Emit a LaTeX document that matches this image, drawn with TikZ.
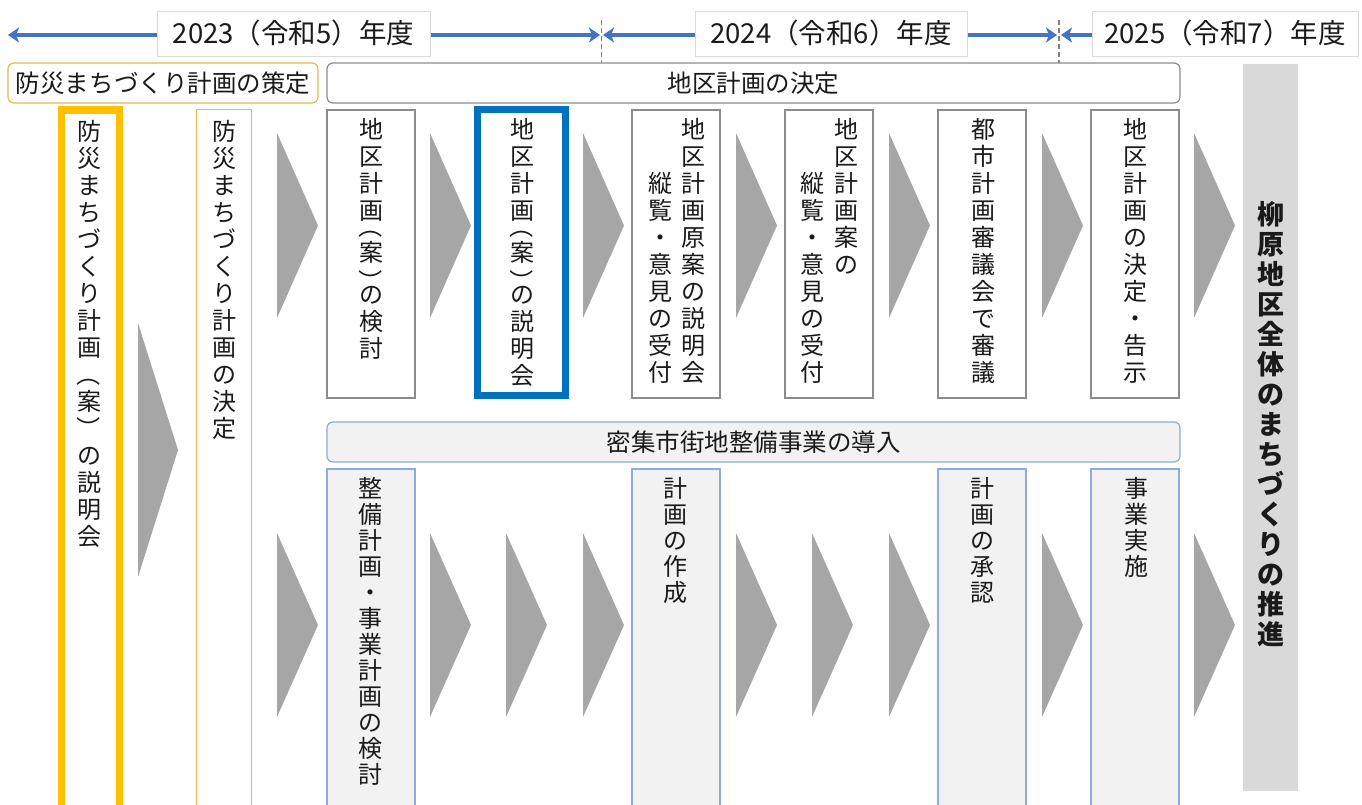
\documentclass[tikz,border=0pt]{standalone}
\usepackage{fontspec}
\setmainfont{Noto Sans CJK JP}
\usepackage{graphicx}
\usetikzlibrary{arrows.meta}

\definecolor{tlblue}{HTML}{4472C4}
\definecolor{goldc}{HTML}{E3B84F}
\definecolor{orangec}{HTML}{FFC000}
\definecolor{bluebox}{HTML}{0070C0}
\definecolor{graybd}{HTML}{8C8C8C}
\definecolor{bluebd}{HTML}{8FAADC}
\definecolor{lightf}{HTML}{F2F2F2}
\definecolor{grayf}{HTML}{D9D9D9}
\definecolor{chevc}{HTML}{A6A6A6}
\definecolor{yrbd}{HTML}{DADADA}
\definecolor{sepc}{HTML}{808080}
\definecolor{txt}{HTML}{1A1A1A}

% ---- vertical text helpers ----
\newdimen\vpitch
\def\LP{LP}\def\RP{RP}\def\LPF{LPF}\def\RPF{RPF}
\def\vhalf#1{\hbox to 1em{\hss\smash{#1}\hss\vrule height .55\vpitch depth 0pt width 0pt}}
\def\vfull#1{\hbox to 1em{\hss\smash{#1}\hss\vrule height .88em depth \dimexpr\vpitch-.88em\relax width 0pt}}
\def\vtitem#1{%
 \ifx\LP#1\vhalf{\raisebox{1.08em}{\rotatebox{-90}{（}}}\else
 \ifx\RP#1\vhalf{\raisebox{.5em}{\rotatebox{-90}{）}}}\else
 \ifx\LPF#1\vfull{\raisebox{.88em}{\rotatebox{-90}{（}}}\else
 \ifx\RPF#1\vfull{\raisebox{.88em}{\rotatebox{-90}{）}}}\else
 \hbox to 1em{\hss#1\hss\vrule height .88em depth \dimexpr\vpitch-.88em\relax width 0pt}%
 \fi\fi\fi\fi}
\def\vtloop#1{\ifx\relax#1\else\vtitem#1\expandafter\vtloop\fi}
\newcommand\vtx[2]{\vbox{\offinterlineskip\vpitch=#1\relax\vtloop#2\relax}}

\tikzset{
  tl/.style={draw=tlblue, line width=3.2pt},
  yr/.style={draw=yrbd, fill=white, line width=0.8pt, inner sep=0, text=txt,
     font=\fontsize{27.5}{27.5}\selectfont},
  sepline/.style={draw=sepc, line width=1.6pt, dash pattern=on 5pt off 3pt},
  hd/.style={rounded corners=6pt, fill=white, line width=1.2pt, inner sep=0, text=txt,
     font=\fontsize{24.5}{24.5}\selectfont},
  tbox/.style={draw=graybd, fill=white, line width=1.2pt, inner sep=0, outer sep=0, anchor=north west},
  bbox/.style={draw=bluebd, fill=lightf, line width=1.2pt, inner sep=0, outer sep=0, anchor=north west},
  vt/.style={anchor=north, inner sep=0, text=txt, font=\fontsize{24}{24}\selectfont},
  chev/.style={fill=chevc, draw=none}
}

\begin{document}
\begin{tikzpicture}[x=1pt,y=-1pt]
\clip (0,0) rectangle (1362,804);
\fill[white] (0,0) rectangle (1362,804);

% ---- timeline ----
\coordinate (a1) at (8,35);
\coordinate (a2) at (600,35);
\coordinate (a3) at (603,35);
\coordinate (a4) at (1057,35);
\coordinate (a5) at (1061,35);
\coordinate (a6) at (1110,35);
\draw[tl,{Stealth[length=11pt,width=15pt,inset=3pt]}-{Stealth[length=11pt,width=15pt,inset=3pt]}] (a1) -- (a2);
\draw[tl,{Stealth[length=11pt,width=15pt,inset=3pt]}-{Stealth[length=11pt,width=15pt,inset=3pt]}] (a3) -- (a4);
\draw[tl,{Stealth[length=11pt,width=15pt,inset=3pt]}-] (a5) -- (a6);
\coordinate (s1t) at (601.5,20); \coordinate (s1b) at (601.5,63);
\coordinate (s2t) at (1059,20); \coordinate (s2b) at (1059,63);
\draw[sepline] (s1t) -- (s1b);
\draw[sepline] (s2t) -- (s2b);

\node[yr, minimum width=273, minimum height=45] (y23) at (293.5,33.5) {2023（令和5）年度};
\node[yr, minimum width=272, minimum height=45] (y24) at (831,33.5) {2024（令和6）年度};
\node[yr, minimum width=266, minimum height=45] (y25) at (1225,33.5) {2025（令和7）年度};

% ---- headers ----
\node[hd, draw=goldc, minimum width=310, minimum height=40] (h1) at (163,83) {防災まちづくり計画の策定};
\node[hd, draw=graybd, minimum width=853, minimum height=40] (h2) at (753.5,83) {地区計画の決定};
\node[hd, draw=bluebd, fill=lightf, minimum width=853, minimum height=40] (h3) at (753.5,442) {密集市街地整備事業の導入};

% ---- right gray column ----
\node[fill=grayf, inner sep=0, outer sep=0, anchor=north west, minimum width=55, minimum height=727] (gr) at (1243,64) {};
\node[vt, font=\fontsize{27}{27}\selectfont\bfseries] (grt) at (1270.5,201) {\vtx{30pt}{柳原地区全体のまちづくりの推進}};

% ---- left columns ----
\node[draw=orangec, line width=7.5pt, fill=white, inner sep=0, outer sep=0, anchor=north west, minimum width=58, minimum height=720] (ob) at (61.5,110) {};
\node[draw=goldc, line width=1.4pt, fill=white, inner sep=0, outer sep=0, anchor=north west, minimum width=55, minimum height=720] (gb) at (196.5,109.5) {};
\node[vt] (obt) at (89,119) {\vtx{27pt}{防災まちづくり計画\LPF 案\RPF の説明会}};
\node[vt] (gbt) at (224,119) {\vtx{27pt}{防災まちづくり計画の決定}};

% ---- top row boxes ----
\node[tbox, minimum width=88, minimum height=288] (b1) at (327,110) {};
\node[draw=bluebox, line width=7pt, fill=white, inner sep=0, outer sep=0, anchor=north west, minimum width=88, minimum height=286] (b2) at (477.5,109.5) {};
\node[tbox, minimum width=88, minimum height=288] (b3) at (632,110) {};
\node[tbox, minimum width=88, minimum height=288] (b4) at (785,110) {};
\node[tbox, minimum width=88, minimum height=288] (b5) at (938,110) {};
\node[tbox, minimum width=88, minimum height=288] (b6) at (1091,110) {};

\node[vt] (t1) at (371,117) {\vtx{27pt}{地区計画\LP 案\RP の検討}};
\node[vt] (t2) at (522,117) {\vtx{27pt}{地区計画\LP 案\RP の説明会}};
\node[vt] (t3a) at (693,117) {\vtx{27pt}{地区計画原案の説明会}};
\node[vt] (t3b) at (660,171) {\vtx{27pt}{縦覧・意見の受付}};
\node[vt] (t4a) at (846,117) {\vtx{27pt}{地区計画案の}};
\node[vt] (t4b) at (812,171) {\vtx{27pt}{縦覧・意見の受付}};
\node[vt] (t5) at (983,117) {\vtx{27pt}{都市計画審議会で審議}};
\node[vt] (t6) at (1135,117) {\vtx{27pt}{地区計画の決定・告示}};

% ---- bottom row boxes ----
\node[bbox, minimum width=88, minimum height=360] (c1) at (327,469) {};
\node[bbox, minimum width=88, minimum height=360] (c2) at (632,469) {};
\node[bbox, minimum width=88, minimum height=360] (c3) at (938,469) {};
\node[bbox, minimum width=88, minimum height=360] (c4) at (1091,469) {};

\node[vt] (u1) at (370,476) {\vtx{26pt}{整備計画・事業計画の検討}};
\node[vt] (u2) at (675,476) {\vtx{26pt}{計画の作成}};
\node[vt] (u3) at (982,476) {\vtx{26pt}{計画の承認}};
\node[vt] (u4) at (1136,476) {\vtx{26pt}{事業実施}};

% ---- chevrons ----
\fill[chev] (138,323) -- (178,450) -- (138,577) -- cycle;
\foreach \x in {277,430,583,736,889,1042,1194}
  \fill[chev] (\x,133) -- (\x+41,225.5) -- (\x,318) -- cycle;
\foreach \x in {277,430,506,583,736,812,889,1042,1194}
  \fill[chev] (\x,533) -- (\x+41,625) -- (\x,717) -- cycle;
\end{tikzpicture}
\end{document}
